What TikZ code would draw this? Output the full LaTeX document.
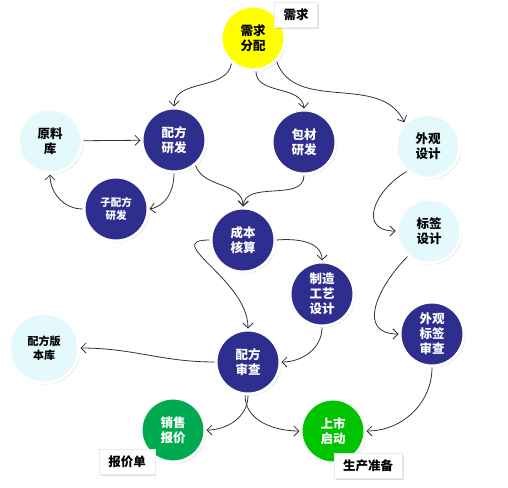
\documentclass[tikz,border=0pt]{standalone}
\usepackage{fontspec}
\setmainfont{Noto Sans CJK SC}
\usetikzlibrary{arrows.meta,positioning,shadows}
\definecolor{navy}{RGB}{46,46,142}
\definecolor{pale}{RGB}{228,249,252}
\definecolor{sunny}{RGB}{255,255,0}
\definecolor{salesgreen}{RGB}{0,170,80}
\definecolor{launchgreen}{RGB}{0,196,0}
\definecolor{wire}{RGB}{50,50,50}
\begin{document}
\begin{tikzpicture}[x=1pt,y=1pt,>={Straight Barb[length=5pt,width=10pt]},
 stage/.style={circle,draw=white,line width=3pt,minimum size=64pt,inner sep=0pt,align=center,
  font=\bfseries\fontsize{12.5}{15}\selectfont,
  drop shadow={shadow xshift=1.5pt,shadow yshift=-1.5pt,opacity=.3}},
 dark/.style={stage,fill=navy,text=white},
 light/.style={stage,fill=pale,text=black},
 tag/.style={fill=white,draw=black!8,line width=.5pt,inner xsep=9pt,minimum height=25pt,
  font=\bfseries\fontsize{12.5}{15}\selectfont,
  drop shadow={shadow xshift=1.5pt,shadow yshift=-1.5pt,opacity=.25}},
 flow/.style={->,draw=wire,line width=.8pt}]
\useasboundingbox (0,0) rectangle (508,-487);
\node[stage,fill=sunny] (need) at (253,-38) {需求\\分配};
\node[light] (raw) at (50,-141) {原料\\库};
\node[dark] (pf) at (174,-140) {配方\\研发};
\node[dark] (pb) at (304,-142) {包材\\研发};
\node[light] (look) at (428,-146) {外观\\设计};
\node[dark,font=\bfseries\fontsize{10.5}{13}\selectfont] (sub) at (116,-209) {子配方\\研发};
\node[dark] (cost) at (243,-240) {成本\\核算};
\node[light] (label) at (429,-231) {标签\\设计};
\node[dark] (craft) at (322,-294) {制造\\工艺\\设计};
\node[dark] (lcheck) at (432,-334) {外观\\标签\\审查};
\node[light,minimum size=70pt,font=\bfseries\fontsize{11}{14}\selectfont] (lib) at (44,-348) {配方版\\本库};
\node[dark] (check) at (248,-362) {配方\\审查};
\node[stage,fill=salesgreen,text=white] (sales) at (173,-430) {销售\\报价};
\node[stage,fill=launchgreen,text=white] (launch) at (333,-431) {上市\\启动};
\node[tag] (needtag) at (296,-15) {需求};
\node[tag] (quote) at (127,-462) {报价单};
\node[tag] (prep) at (368,-466) {生产准备};
\draw[flow] (raw) -- (pf);
\foreach \a/\b/\o/\i in {need.230/pf.north/-100/90, need.275/pb.north/-90/95,
 need.-45/look.135/-70/115, pf.south/sub.east/-90/10, sub.west/raw.south/180/-90,
 pf.-50/cost.north/-70/90, pb.south/cost.north/-90/85,
 cost.east/craft.north/5/90, craft.south/check.east/-90/0,
 check.west/lib.east/180/0, check.south/sales.east/-90/0, check.265/launch.west/-90/180,
 lcheck.south/launch.east/-90/0}
 {\draw[flow] (\a) to[out=\o,in=\i] (\b);}
\draw[flow] (look.-130) to[out=-150,in=180,looseness=1.6] (label.west);
\draw[flow] (label.-130) to[out=-135,in=180,looseness=1.4] (lcheck.west);
\draw[flow] (cost.west) to[out=180,in=90,looseness=1.3] (check.north);
\end{tikzpicture}
\end{document}
